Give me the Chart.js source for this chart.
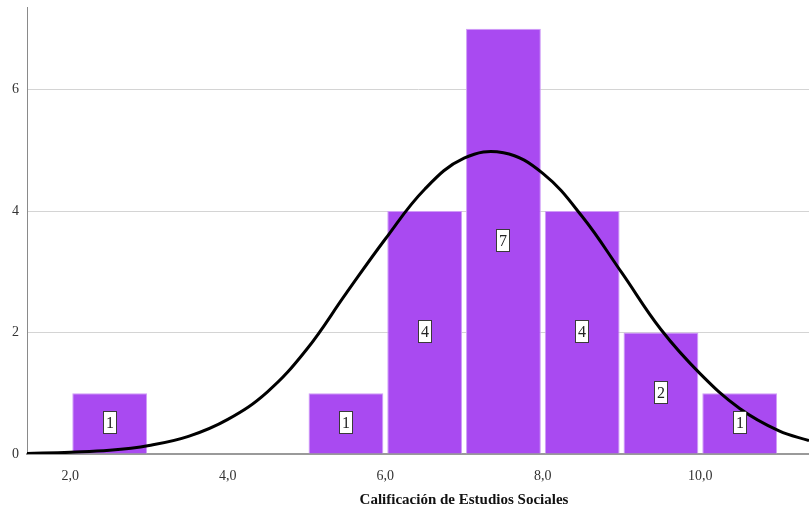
<!DOCTYPE html>
<html>
<head>
<meta charset="utf-8">
<script src="https://cdn.jsdelivr.net/npm/chart.js@4"></script>
<style>
  body { margin: 0; background: #fff; }
  #wrap { width: 809px; height: 510px; }
</style>
</head>
<body>
<div id="wrap"><canvas id="hist" width="809" height="510"></canvas></div>
<script>
"use strict";

// histograma: centro de cada intervalo y frecuencia
const binCenters = [2.5, 5.5, 6.5, 7.5, 8.5, 9.5, 10.5];
const counts = [1, 1, 4, 7, 4, 2, 1];

// curva normal
const curveX = [1.45, 2.0, 2.5, 3.0, 3.5, 4.0, 4.5, 5.0, 5.5, 6.0, 6.5, 7.0, 7.5, 8.0, 8.5, 9.0, 9.5, 10.0, 10.5, 11.0, 11.38];
const curveY = [0.01, 0.03, 0.06, 0.14, 0.29, 0.57, 1.02, 1.72, 2.64, 3.54, 4.36, 4.87, 4.96, 4.62, 3.91, 2.99, 2.05, 1.32, 0.75, 0.38, 0.22];

const xTicks = [2, 4, 6, 8, 10];
const yTicks = [0, 2, 4, 6];
const axisTitle = "Calificación de Estudios Sociales";

const serif = "'Liberation Serif', 'DejaVu Serif', serif";

// etiquetas con la frecuencia dentro de cada barra
const barLabels = {
  id: "barLabels",
  afterDatasetsDraw(chart) {
    const ctx = chart.ctx;
    const meta = chart.getDatasetMeta(1);
    ctx.save();
    ctx.font = "16px " + serif;
    ctx.textAlign = "center";
    ctx.textBaseline = "middle";
    meta.data.forEach(function(bar, i) {
      const cx = Math.round(bar.x);
      const cy = Math.round((bar.y + bar.base) / 2);
      ctx.fillStyle = "#fff";
      ctx.fillRect(cx - 6.5, cy - 11.5, 13, 22);
      ctx.strokeStyle = "#3a3a3a";
      ctx.lineWidth = 1;
      ctx.strokeRect(cx - 6.5, cy - 11.5, 13, 22);
      ctx.fillStyle = "#222";
      ctx.fillText(String(counts[i]), cx, cy + 1);
    });
    ctx.restore();
  },
  afterDraw(chart) {
    const ctx = chart.ctx;
    ctx.save();
    ctx.font = "bold 15px " + serif;
    ctx.fillStyle = "#111";
    ctx.textAlign = "center";
    ctx.textBaseline = "middle";
    ctx.fillText(axisTitle, 464, 500);
    ctx.restore();
  }
};

new Chart(document.getElementById("hist"), {
  type: "bar",
  data: {
    datasets: [{
      type: "line",
      data: curveX.map((x, i) => ({ x: x, y: curveY[i] })),
      borderColor: "#000",
      borderWidth: 3,
      pointRadius: 0,
      fill: false,
      tension: 0.4,
      order: 0
    }, {
      type: "bar",
      data: binCenters.map((x, i) => ({ x: x, y: counts[i] })),
      backgroundColor: "#a94af1",
      borderColor: "#cf9cf7",
      borderWidth: 1,
      barPercentage: 0.95,
      categoryPercentage: 1,
      order: 1
    }]
  },
  options: {
    responsive: false,
    animation: false,
    devicePixelRatio: 1,
    layout: { padding: { top: 7, right: 0, left: 0, bottom: 0 } },
    plugins: {
      legend: { display: false },
      tooltip: { enabled: false }
    },
    scales: {
      x: {
        type: "linear",
        offset: false,
        min: 1.45,
        max: 11.38,
        grid: { display: false },
        border: { display: true, color: "#9a9a9a", width: 2 },
        afterBuildTicks: (scale) => { scale.ticks = xTicks.map(v => ({ value: v })); },
        afterFit: (scale) => { scale.height = 56; scale.paddingLeft = 0; scale.paddingRight = 0; },
        ticks: {
          padding: 6,
          color: "#333",
          font: { family: serif, size: 14 },
          maxRotation: 0,
          callback: (v) => v.toFixed(1).replace(".", ",")
        }
      },
      y: {
        min: 0,
        max: 7.36,
        grid: { color: "#d4d4d4", lineWidth: 1, drawTicks: false },
        border: { display: true, color: "#8a8a8a", width: 1 },
        afterBuildTicks: (scale) => { scale.ticks = yTicks.map(v => ({ value: v })); },
        afterFit: (scale) => { scale.width = 27; scale.paddingTop = 0; scale.paddingBottom = 0; },
        ticks: {
          padding: 8,
          color: "#333",
          font: { family: serif, size: 14 }
        }
      }
    }
  },
  plugins: [barLabels]
});
</script>
</body>
</html>
